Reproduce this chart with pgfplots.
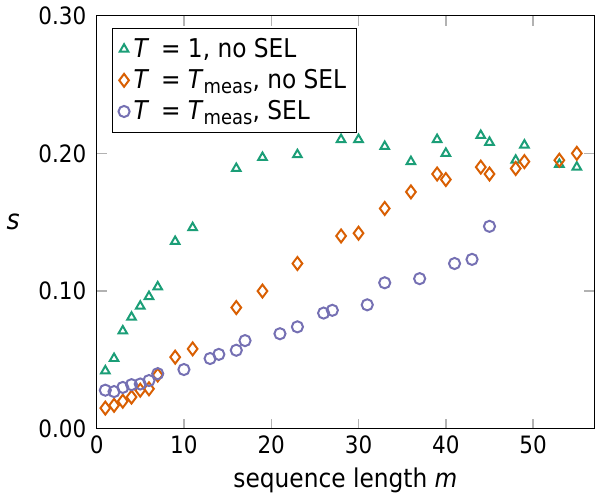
\documentclass[border=0pt]{standalone}
\usepackage{fontspec}
\setmainfont{DejaVu Sans Condensed}
\usepackage{pgfplots}
\pgfplotsset{compat=1.18}
\definecolor{cgreen}{HTML}{1B9E77}
\definecolor{corange}{HTML}{D95F02}
\definecolor{cpurple}{HTML}{7570B3}
\newcommand{\Tmeas}{\textit{T}\raisebox{-0.35ex}{\fontsize{10}{12}\selectfont meas}}

\begin{document}
\begin{tikzpicture}
\begin{axis}[
  scale only axis, width=250pt, height=207.5pt,
  xmin=0, xmax=57, ymin=0, ymax=0.30,
  xtick={0,10,...,50}, ytick={0,0.1,0.2,0.3},
  tick align=inside, major tick length=5pt,
  tick style={color=black!30, line width=0.7pt},
  axis line style={line width=0.75pt},
  /pgf/number format/assume math mode=true,
  yticklabel style={xshift=-1.7pt, /pgf/number format/.cd, fixed, fixed zerofill, precision=2},
  ticklabel style={font=\fontsize{12}{14}\selectfont},
  label style={font=\fontsize{13}{15}\selectfont},
  xlabel={sequence length \textit{m}},
  ylabel={\fontsize{14}{16}\selectfont\textit{s}}, ylabel style={rotate=-90},
  ylabel shift=2.5pt,
  legend style={at={(0.031,0.971)}, anchor=north west, draw=black, line width=0.5pt,
    font=\fontsize{13}{15.5}\selectfont, row sep=0.5pt, inner xsep=3pt, inner ysep=3pt},
  legend cell align=left,
  every axis plot/.append style={only marks, line width=1pt},
]
% T = 1, no SEL
\addplot[cgreen, mark=triangle, mark size=2.5pt] coordinates {
  (1,0.042) (2,0.051) (3,0.071) (4,0.081) (5,0.089) (6,0.096) (7,0.103)
  (9,0.136) (11,0.146) (16,0.189) (19,0.197) (23,0.199) (28,0.210) (30,0.210)
  (33,0.205) (36,0.194) (39,0.210) (40,0.200) (44,0.213) (45,0.208)
  (48,0.195) (49,0.206) (53,0.192) (55,0.190)
};
\addlegendentry{\textit{T}\, = 1, no SEL}
% T = T_meas, no SEL
\addplot[corange, mark=diamond, mark size=3.25pt] coordinates {
  (1,0.015) (2,0.017) (3,0.020) (4,0.023) (5,0.028) (6,0.029) (7,0.039)
  (9,0.052) (11,0.058) (16,0.088) (19,0.100) (23,0.120) (28,0.140) (30,0.142)
  (33,0.160) (36,0.172) (39,0.185) (40,0.181) (44,0.190) (45,0.185)
  (48,0.189) (49,0.194) (53,0.195) (55,0.200)
};
\addlegendentry{\textit{T}\, = \Tmeas, no SEL}
% T = T_meas, SEL
\addplot[cpurple, mark=o, mark size=2.8pt] coordinates {
  (1,0.028) (2,0.027) (3,0.030) (4,0.032) (5,0.0325) (6,0.035) (7,0.040)
  (10,0.043) (13,0.051) (14,0.054) (16,0.057) (17,0.064) (21,0.069) (23,0.074)
  (26,0.084) (27,0.086) (31,0.090) (33,0.106) (37,0.109) (41,0.120) (43,0.123)
  (45,0.147)
};
\addlegendentry{\textit{T}\, = \Tmeas, SEL}
\end{axis}
\end{tikzpicture}
\end{document}
